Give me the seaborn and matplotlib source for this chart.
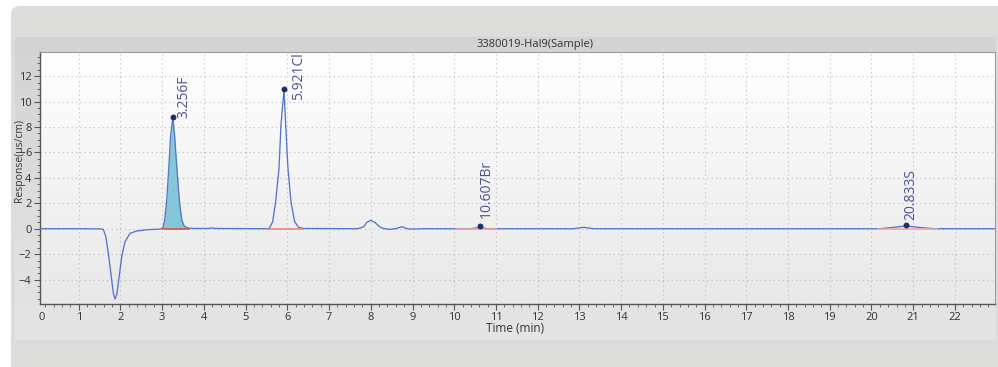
import numpy as np
import pandas as pd
import matplotlib
matplotlib.use("Agg")
import matplotlib.pyplot as plt
from matplotlib.patches import FancyBboxPatch
from matplotlib.ticker import MultipleLocator
import seaborn as sns

# ---------------- data ----------------
time_min = [0.0, 1.00, 1.50, 1.59, 1.65, 1.71, 1.77, 1.83, 1.87, 1.91, 1.97, 2.03, 2.11,
            2.23, 2.39, 2.63, 2.95, 3.02, 3.06, 3.11, 3.16, 3.20, 3.256, 3.30, 3.35,
            3.41, 3.47, 3.53, 3.62, 3.75, 4.10, 4.18, 4.26, 5.50, 5.57, 5.648, 5.72,
            5.80, 5.847, 5.921, 5.96, 6.015, 6.087, 6.175, 6.27, 6.40, 7.60, 7.71, 7.83,
            7.91, 8.00, 8.11, 8.19, 8.27, 8.43, 8.59, 8.75, 8.87, 8.99, 9.20, 10.40,
            10.607, 10.80, 12.85, 13.10, 13.35, 20.20, 20.50, 20.833, 21.15, 21.50, 23.0]
response = [0.0, 0.0, -0.01, -0.05, -0.63, -1.94, -3.50, -5.08, -5.53, -5.20, -3.77, -2.20,
            -1.02, -0.36, -0.18, -0.08, -0.03, 0.08, 0.68, 2.26, 4.87, 7.23, 8.76, 7.23,
            4.87, 2.26, 0.68, 0.20, 0.05, 0.02, 0.02, 0.06, 0.02, 0.0, 0.03, 0.55, 2.12,
            4.75, 8.15, 10.98, 8.15, 4.75, 2.12, 0.55, 0.10, 0.02, 0.0, 0.02, 0.16,
            0.52, 0.66, 0.47, 0.21, 0.05, -0.05, 0.0, 0.16, 0.0, -0.03, 0.0, 0.0,
            0.10, 0.0, 0.0, 0.11, 0.0, 0.0, 0.10, 0.22, 0.10, 0.0, 0.0]

peak_rt = [3.256, 5.921, 10.607, 20.833]
peak_height = [8.76, 10.98, 0.21, 0.29]
peak_ion = ["F", "Cl", "Br", "S"]
int_start = [2.99, 5.51, 10.02, 20.12]
int_end = [3.67, 6.39, 11.02, 21.59]

x_ticks = list(range(1, 23))
y_ticks = [-4, -2, 0, 2, 4, 6, 8, 10, 12]
title = "3380019-Hal9(Sample)"
x_label = "Time (min)"
y_label = "Response(\u03bcs/cm)"

# ---------------- style / layout ----------------
int_color = ["#e8413c", "#f07a78", "#f4a0a0", "#f4a0a0"]
label_offset_px = [(4, -1), (7, -11), (-1, 8), (-3, 5)]

sns.set_theme(style="ticks")
plt.rcParams["font.family"] = ["Open Sans", "DejaVu Sans"]

W, H = 998, 367
fig = plt.figure(figsize=(W / 100, H / 100), dpi=100)
fig.patch.set_facecolor("white")

bg = fig.add_axes([0, 0, 1, 1])
bg.axis("off")
bg.add_patch(FancyBboxPatch((11, 6), W + 20, H + 20,
                            boxstyle="round,pad=0,rounding_size=9",
                            fc="#dcdcda", ec="none", zorder=1))


def vgrad(top, bottom, n=64):
    c0 = np.array(matplotlib.colors.to_rgb(top))
    c1 = np.array(matplotlib.colors.to_rgb(bottom))
    t = np.linspace(0, 1, n)[:, None]
    return (c0 * (1 - t) + c1 * t)[:, None, :]


bg.imshow(vgrad("#d3d3d3", "#e5e5e5"), extent=(15, 996, 340, 37),
          aspect="auto", interpolation="bilinear", zorder=2)
L, R, T, B = 40, 995, 52, 304
bg.imshow(vgrad("#ffffff", "#e8e8e8"), extent=(L, R, B, T),
          aspect="auto", interpolation="bilinear", zorder=3)
bg.set_xlim(0, W)
bg.set_ylim(H, 0)

ax = fig.add_axes([L / W, 1 - B / H, (R - L) / W, (B - T) / H])
ax.patch.set_alpha(0)

df = pd.DataFrame({"time": time_min, "resp": response})
line_col = "#5277c8"

m = (df.time >= int_start[0]) & (df.time <= int_end[0])
ax.fill_between(df.time[m], 0, df.resp[m], color="#86c6d9", lw=0, zorder=2)

sns.lineplot(data=df, x="time", y="resp", ax=ax, color=line_col, lw=0.95,
             sort=False, zorder=3)

for s, e, c in zip(int_start, int_end, int_color):
    ax.plot([s, e], [0, 0], color=c, lw=1.1, zorder=4, solid_capstyle="butt")

ax.scatter(peak_rt, peak_height, s=18, color="#1f2f6b", zorder=5, linewidths=0)
for rt, h, ion, off in zip(peak_rt, peak_height, peak_ion, label_offset_px):
    t = ax.annotate(f"{rt:.3f}{ion}", xy=(rt, h), xytext=(off[0] * 0.72, off[1] * 0.72),
                    textcoords="offset points", rotation=90, ha="left", va="bottom",
                    fontsize=10, color="#4a5391", annotation_clip=False, zorder=6)
    t.set_clip_on(True)

ax.set_xlim(0.072, 22.96)
ax.set_ylim(-5.92, 13.9)
ax.set_xticks(x_ticks)
ax.set_yticks(y_ticks)
ax.xaxis.set_minor_locator(MultipleLocator(0.2))
ax.yaxis.set_minor_locator(MultipleLocator(0.5))
ax.grid(True, which="major", linestyle=(0, (1, 3)), color="#bdbdbd", lw=0.8)
ax.set_axisbelow(True)
ax.tick_params(axis="both", which="major", length=4, width=0.8, color="#555555",
               labelsize=8, labelcolor="#333333", pad=2, direction="out")
ax.tick_params(axis="both", which="minor", length=2.5, width=0.7, color="#666666",
               direction="out")
for side in ["left", "bottom"]:
    ax.spines[side].set_color("#555555")
    ax.spines[side].set_linewidth(1.0)
for side in ["top", "right"]:
    ax.spines[side].set_color("#9a9a9a")
    ax.spines[side].set_linewidth(0.8)
ax.set_xlabel("")
ax.set_ylabel("")
ax.annotate("0", xy=(0, 0), xycoords="axes fraction", xytext=(1, -6),
            textcoords="offset points", ha="center", va="top", fontsize=8,
            color="#333333")

fig.text(535 / W, 1 - 44 / H, title, ha="center", va="center", fontsize=8,
         color="#333333")
fig.text(515 / W, 1 - 328 / H, x_label, ha="center", va="center", fontsize=8.5,
         color="#333333")
fig.text(20 / W, 1 - 160 / H, y_label, ha="center", va="center", fontsize=7.5,
         color="#333333", rotation=90)

fig.savefig("out.png", dpi=100)
